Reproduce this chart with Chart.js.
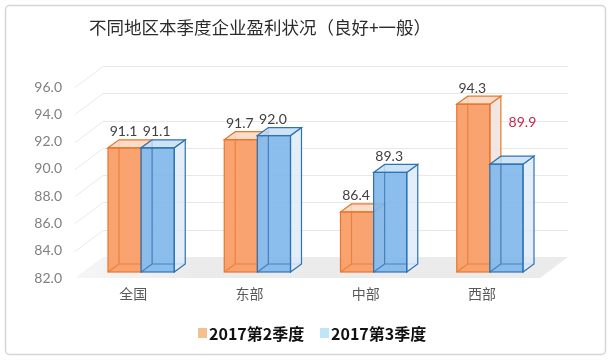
<!DOCTYPE html>
<html>
<head>
<meta charset="utf-8">
<script src="https://cdn.jsdelivr.net/npm/chart.js@4.4.0/dist/chart.umd.min.js"></script>
<style>
  html, body { margin: 0; padding: 0; background: #fff; }
  #wrap { width: 612px; height: 361px; }
</style>
</head>
<body>
<div id="wrap"><canvas id="myChart" width="612" height="361"></canvas></div>
<script>
var regions = ['全国', '东部', '中部', '西部'];
var q2 = [91.1, 91.7, 86.4, 94.3];
var q3 = [91.1, 92.0, 89.3, 89.9];
var seriesNames = ['2017第2季度', '2017第3季度'];
var yMin = 82, yMax = 96, yStep = 2;
var title = '不同地区本季度企业盈利状况（良好+一般）';

var CJK = '"Noto Sans CJK SC", "Noto Sans", sans-serif';
var NUM = 'Lato, "Noto Sans", sans-serif';

// 3d offsets (px)
var WALL = { dx: 28, dy: -21 };
var BAR_FRONT = { dx: 8, dy: -6 };
var BAR_DEPTH = { dx: 11, dy: -8 };

var styles = [
  { front: 'rgba(248,155,100,0.92)', line: '#E8772E', side: 'rgba(238,224,218,0.8)', top: 'rgba(250,214,190,0.85)', legend: '#F4C08F' },
  { front: 'rgba(128,183,235,0.9)', line: '#2E73B4', side: 'rgba(220,234,247,0.8)', top: 'rgba(198,222,244,0.85)', legend: '#BFE6F7' }
];
// the one label that was moved aside in the original
var movedLabel = { ds: 1, index: 3, dx: 17, dy: -26, color: '#C8254E' };

function poly(ctx, pts, fill, stroke) {
  ctx.beginPath();
  ctx.moveTo(pts[0][0], pts[0][1]);
  for (var i = 1; i < pts.length; i++) ctx.lineTo(pts[i][0], pts[i][1]);
  ctx.closePath();
  if (fill) { ctx.fillStyle = fill; ctx.fill(); }
  if (stroke) { ctx.strokeStyle = stroke; ctx.stroke(); }
}

function drawBox(ctx, el, base, s) {
  var w = el.width;
  var x0 = el.x - w / 2 + BAR_FRONT.dx, x1 = el.x + w / 2 + BAR_FRONT.dx;
  var yt = el.y + BAR_FRONT.dy, yb = base + BAR_FRONT.dy;
  var dx = BAR_DEPTH.dx, dy = BAR_DEPTH.dy;
  ctx.lineWidth = 1.2;
  // front fill
  ctx.fillStyle = s.front;
  ctx.fillRect(x0, yt, x1 - x0, yb - yt);
  // back edges seen through the glass
  ctx.globalAlpha = 0.75;
  ctx.strokeStyle = s.line;
  ctx.beginPath();
  ctx.moveTo(x0 + dx, yt + dy); ctx.lineTo(x0 + dx, yb + dy); ctx.lineTo(x1 + dx, yb + dy);
  ctx.moveTo(x0, yb); ctx.lineTo(x0 + dx, yb + dy);
  ctx.stroke();
  ctx.globalAlpha = 1;
  // right side + top
  poly(ctx, [[x1, yt], [x1 + dx, yt + dy], [x1 + dx, yb + dy], [x1, yb]], s.side, s.line);
  poly(ctx, [[x0, yt], [x0 + dx, yt + dy], [x1 + dx, yt + dy], [x1, yt]], s.top, s.line);
  // front outline
  ctx.strokeStyle = s.line;
  ctx.strokeRect(x0, yt, x1 - x0, yb - yt);
}

var box3d = {
  id: 'box3d',
  beforeDraw: function (chart) {
    var ctx = chart.ctx;
    ctx.save();
    ctx.strokeStyle = '#d6d6d6';
    ctx.lineWidth = 1.5;
    ctx.beginPath();
    ctx.roundRect(5.5, 5.5, 600, 349, 4);
    ctx.stroke();
    ctx.fillStyle = '#2b2b2b';
    ctx.font = '17.5px ' + CJK;
    ctx.textAlign = 'center';
    ctx.textBaseline = 'middle';
    ctx.fillText(title, 260, 27);
    // legend
    var lx = [198, 320];
    ctx.font = 'bold 16px ' + CJK;
    ctx.textAlign = 'left';
    for (var i = 0; i < seriesNames.length; i++) {
      ctx.fillStyle = styles[i].legend;
      ctx.fillRect(lx[i], 328, 9, 10);
      ctx.fillStyle = '#111';
      ctx.fillText(seriesNames[i], lx[i] + 11, 334);
    }
    ctx.restore();
  },
  beforeDatasetsDraw: function (chart) {
    var ctx = chart.ctx, a = chart.chartArea, y = chart.scales.y;
    ctx.save();
    // floor, a little lighter towards the left
    var fb = y.getPixelForValue(yMin);
    var g = ctx.createLinearGradient(a.left, 0, a.left + 120, 0);
    g.addColorStop(0, '#f6f6f6');
    g.addColorStop(1, '#ebebeb');
    poly(ctx, [[a.left, fb], [a.right, fb], [a.right + WALL.dx, fb + WALL.dy], [a.left + WALL.dx, fb + WALL.dy]], g);
    // side wall + back wall grid
    ctx.strokeStyle = '#e8e8e8';
    ctx.lineWidth = 1;
    for (var v = yMin + yStep; v <= yMax; v += yStep) {
      var py = Math.round(y.getPixelForValue(v)) + 0.5;
      ctx.beginPath();
      ctx.moveTo(a.left, py);
      ctx.lineTo(a.left + WALL.dx, py + WALL.dy);
      ctx.lineTo(a.right + WALL.dx, py + WALL.dy);
      ctx.stroke();
    }
    ctx.restore();
  },
  afterDatasetsDraw: function (chart) {
    var ctx = chart.ctx;
    var base = chart.scales.y.getPixelForValue(yMin);
    var metas = [chart.getDatasetMeta(0), chart.getDatasetMeta(1)];
    ctx.save();
    for (var i = 0; i < regions.length; i++) {
      for (var d = 0; d < metas.length; d++) drawBox(ctx, metas[d].data[i], base, styles[d]);
    }
    ctx.font = '14px ' + NUM;
    ctx.textAlign = 'center';
    ctx.textBaseline = 'bottom';
    for (var d = 0; d < metas.length; d++) {
      var vals = chart.data.datasets[d].data;
      for (var i = 0; i < regions.length; i++) {
        var el = metas[d].data[i];
        var tx = el.x + BAR_FRONT.dx - 1, ty = el.y + BAR_FRONT.dy + BAR_DEPTH.dy - 1;
        ctx.fillStyle = '#404040';
        if (d === movedLabel.ds && i === movedLabel.index) {
          tx += movedLabel.dx; ty += movedLabel.dy; ctx.fillStyle = movedLabel.color;
        }
        ctx.fillText(vals[i].toFixed(1), tx, ty);
      }
    }
    ctx.restore();
  }
};

var ctx = document.getElementById('myChart').getContext('2d');
var myChart = new Chart(ctx, {
  type: 'bar',
  data: {
    labels: regions,
    datasets: [
      { label: seriesNames[0], data: q2, backgroundColor: 'rgba(0,0,0,0)', borderWidth: 0 },
      { label: seriesNames[1], data: q3, backgroundColor: 'rgba(0,0,0,0)', borderWidth: 0 }
    ]
  },
  options: {
    responsive: false,
    animation: false,
    layout: { padding: { top: 87, right: 72, left: 0, bottom: 0 } },
    datasets: { bar: { categoryPercentage: 0.57, barPercentage: 1 } },
    plugins: {
      legend: { display: false },
      title: { display: false },
      tooltip: { enabled: false }
    },
    scales: {
      x: {
        grid: { display: false, drawTicks: false },
        border: { display: false },
        ticks: { padding: 7, color: '#595959', font: { family: CJK, size: 14 } },
        afterFit: function (s) { s.height = 83; }
      },
      y: {
        min: yMin, max: yMax, beginAtZero: false,
        grid: { display: false, drawTicks: false },
        border: { display: false },
        ticks: {
          stepSize: yStep, padding: 13, color: '#808080',
          font: { family: NUM, size: 14 },
          callback: function (v) { return v.toFixed(1); }
        },
        afterFit: function (s) { s.width = 75; }
      }
    }
  },
  plugins: [box3d]
});
</script>
</body>
</html>
